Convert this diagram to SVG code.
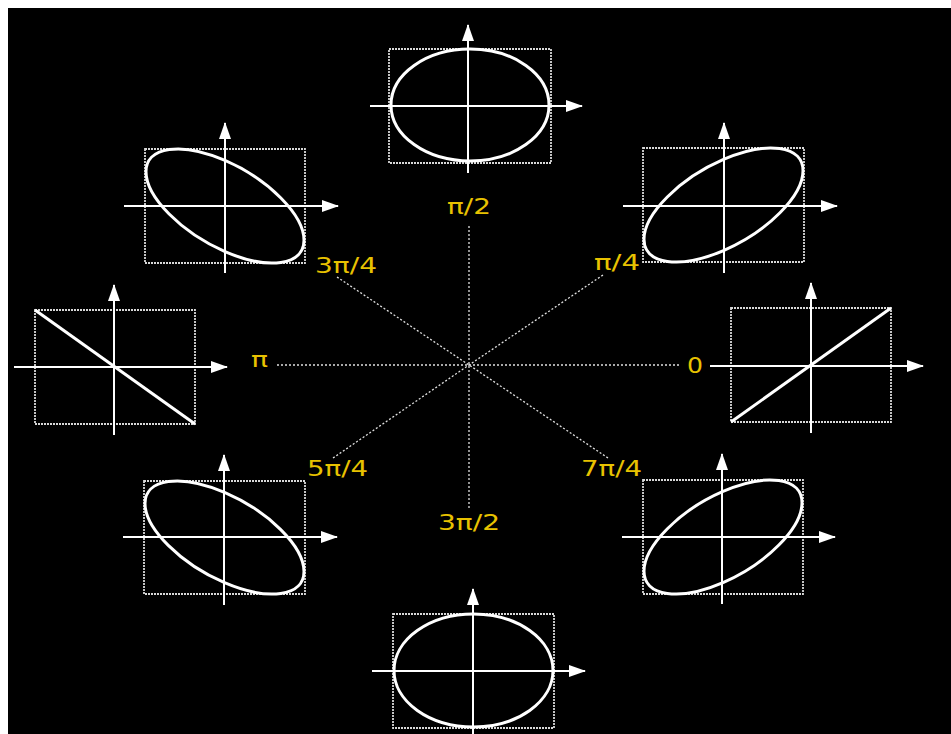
<svg xmlns="http://www.w3.org/2000/svg" width="951" height="734" viewBox="0 0 951 734">
<defs>
<marker id="arr" markerUnits="userSpaceOnUse" markerWidth="17" markerHeight="13" refX="16" refY="6.5" orient="auto">
<path d="M0,0.5 L17,6.5 L0,12.5 Z" fill="#fff"/>
</marker>
<style>
.box{fill:none;stroke:#d8d8d8;stroke-width:1.8;stroke-dasharray:2 1}
.ax{stroke:#fff;stroke-width:2;fill:none}
.ax.h,.ax.v{marker-end:url(#arr)}
.curve{fill:none;stroke:#fff;stroke-width:3}
.ell{fill:none;stroke:#fff;stroke-width:3;vector-effect:non-scaling-stroke}
.dot{stroke:#e0e0e0;stroke-width:1.3;stroke-dasharray:2 2;fill:none}
.lbl{fill:#e8c200;font-family:"DejaVu Sans",sans-serif;font-size:21px}
</style>
</defs>
<rect x="0" y="0" width="951" height="734" fill="#fff"/>
<rect x="8" y="8" width="943" height="726" fill="#000"/>

<g id="connectors">
<line class="dot" x1="469" y1="226" x2="469" y2="510"/>
<line class="dot" x1="277" y1="365" x2="680" y2="365"/>
<line class="dot" x1="337" y1="277" x2="469" y2="365"/>
<line class="dot" x1="603" y1="275" x2="469" y2="365"/>
<line class="dot" x1="333" y1="458" x2="469" y2="365"/>
<line class="dot" x1="608" y1="458" x2="469" y2="365"/>
</g>

<g id="labels">
<text class="lbl" x="447" y="214" textLength="44" lengthAdjust="spacingAndGlyphs">π/2</text>
<text class="lbl" x="315" y="273" textLength="62" lengthAdjust="spacingAndGlyphs">3π/4</text>
<text class="lbl" x="594" y="270" textLength="46" lengthAdjust="spacingAndGlyphs">π/4</text>
<text class="lbl" x="251" y="367" textLength="17" lengthAdjust="spacingAndGlyphs">π</text>
<text class="lbl" x="687" y="373" textLength="16" lengthAdjust="spacingAndGlyphs">0</text>
<text class="lbl" x="307" y="476" textLength="61" lengthAdjust="spacingAndGlyphs">5π/4</text>
<text class="lbl" x="581" y="476" textLength="61" lengthAdjust="spacingAndGlyphs">7π/4</text>
<text class="lbl" x="438" y="530" textLength="62" lengthAdjust="spacingAndGlyphs">3π/2</text>
</g>

<g id="node-pi2">
<rect class="box" x="389" y="49" width="162" height="114"/>
<ellipse class="curve" cx="470" cy="105" rx="79" ry="56"/>
<line class="ax v" x1="468" y1="173" x2="468" y2="25"/>
<line class="ax h" x1="370" y1="106" x2="582" y2="106"/>
</g>

<g id="node-3pi4">
<rect class="box" x="145" y="149" width="160" height="114"/>
<circle class="ell" cx="0" cy="0" r="1" transform="matrix(79,34.2,0,45.6,225,206)"/>
<line class="ax v" x1="225" y1="273" x2="225" y2="123"/>
<line class="ax h" x1="124" y1="206" x2="338" y2="206"/>
</g>

<g id="node-pi4">
<rect class="box" x="643" y="148" width="161" height="114"/>
<circle class="ell" cx="0" cy="0" r="1" transform="matrix(79.5,-34.2,0,45.6,723.5,205)"/>
<line class="ax v" x1="724" y1="273" x2="724" y2="123"/>
<line class="ax h" x1="623" y1="206" x2="837" y2="206"/>
</g>

<g id="node-pi">
<rect class="box" x="35" y="310" width="160" height="114"/>
<line class="curve" x1="35" y1="310" x2="195" y2="424"/>
<line class="ax v" x1="114" y1="435" x2="114" y2="285"/>
<line class="ax h" x1="14" y1="367" x2="227" y2="367"/>
</g>

<g id="node-0">
<rect class="box" x="731" y="308" width="160" height="114"/>
<line class="curve" x1="731" y1="422" x2="891" y2="308"/>
<line class="ax v" x1="811" y1="433" x2="811" y2="283"/>
<line class="ax h" x1="710" y1="366" x2="923" y2="366"/>
</g>

<g id="node-5pi4">
<rect class="box" x="144" y="481" width="161" height="113"/>
<circle class="ell" cx="0" cy="0" r="1" transform="matrix(79.5,34,0,-45.2,224.5,537.5)"/>
<line class="ax v" x1="224" y1="605" x2="224" y2="455"/>
<line class="ax h" x1="123" y1="537" x2="337" y2="537"/>
</g>

<g id="node-7pi4">
<rect class="box" x="643" y="480" width="160" height="114"/>
<circle class="ell" cx="0" cy="0" r="1" transform="matrix(79,-34.2,0,-45.6,723,537)"/>
<line class="ax v" x1="722" y1="604" x2="722" y2="454"/>
<line class="ax h" x1="622" y1="537" x2="835" y2="537"/>
</g>

<g id="node-3pi2">
<rect class="box" x="393" y="614" width="161" height="114"/>
<ellipse class="curve" cx="473.5" cy="670.5" rx="79.5" ry="56.5"/>
<line class="ax v" x1="473" y1="734" x2="473" y2="589"/>
<line class="ax h" x1="372" y1="671" x2="585" y2="671"/>
</g>
</svg>
